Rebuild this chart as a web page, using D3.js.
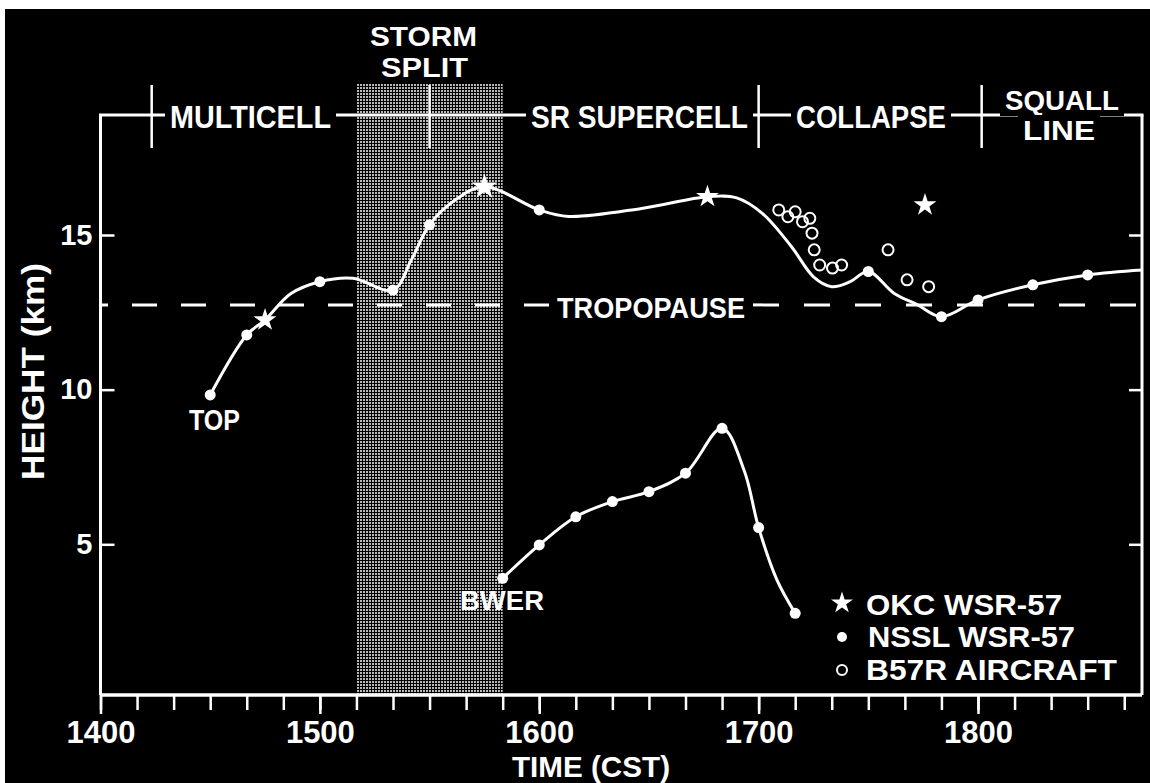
<!DOCTYPE html>
<html>
<head>
<meta charset="utf-8">
<script src="https://d3js.org/d3.v7.min.js"></script>
<style>
body { margin: 0; background: #fff; }
svg text { font-family: "Liberation Sans", Arial, sans-serif; font-weight: bold; fill: #fff; }
</style>
</head>
<body>
<svg width="1150" height="783"></svg>
<script>
// times are CST clock readings (HHMM), heights in km
var hourTicks  = [1400, 1500, 1600, 1700, 1800];
var hourLabels = ["1400", "1500", "1600", "1700", "1800"];
var heightTicks = [5, 10, 15];

// NSSL WSR-57 echo top
var topTimes   = [1430, 1440, 1500, 1520, 1530, 1600, 1730, 1750, 1800, 1815, 1830];
var topHeights = [9.83, 11.77, 13.49, 13.22, 15.33, 15.81, 13.82, 12.36, 12.9, 13.39, 13.71];

// NSSL WSR-57 BWER top
var bwerTimes   = [1550, 1600, 1610, 1620, 1630, 1640, 1650, 1700, 1710];
var bwerHeights = [3.9, 4.98, 5.89, 6.38, 6.70, 7.30, 8.75, 5.54, 2.77];

// OKC WSR-57 tops
var okcTimes   = [1445, 1545, 1646, 1745.5];
var okcHeights = [12.25, 16.56, 16.24, 15.97];

// B57R aircraft observations
var b57Times   = [1705.5, 1708, 1710, 1712, 1714, 1714.6, 1715.2, 1716.7, 1720.2, 1722.7, 1735.4, 1740.6, 1746.5];
var b57Heights = [15.81, 15.59, 15.75, 15.43, 15.54, 15.06, 14.52, 14.03, 13.93, 14.03, 14.52, 13.55, 13.33];

// hand-drawn smooth curves
var topLineTimes   = [1430, 1440, 1445, 1452, 1500, 1509, 1520, 1525, 1530, 1537, 1545, 1600, 1608, 1628, 1646, 1654, 1701, 1709, 1715, 1720, 1725, 1730, 1737, 1743.5, 1750, 1800, 1815, 1830, 1845];
var topLineHeights = [9.83, 11.77, 12.25, 13.1, 13.49, 13.6, 13.22, 14.19, 15.33, 16.13, 16.56, 15.81, 15.6, 15.86, 16.24, 16.2, 15.7, 14.62, 13.65, 13.33, 13.49, 13.82, 13.12, 12.74, 12.36, 12.9, 13.39, 13.71, 13.87];
var bwerLineTimes   = [1550, 1600, 1610, 1620, 1630, 1640, 1650, 1656, 1700, 1705, 1710];
var bwerLineHeights = [3.9, 4.98, 5.89, 6.38, 6.70, 7.30, 8.75, 7.4, 5.54, 3.85, 2.77];

var tropopause = 12.74;
var splitStart = 1510, splitEnd = 1550;
var stageBreaks = [1414, 1530, 1700, 1801];

function toMin(hhmm) { return Math.floor(hhmm / 100) * 60 + (hhmm % 100) - 840; }
function zip(ts, hs) { return ts.map(function(t, i) { return {t: t, h: hs[i]}; }); }

var W = 1150, H = 783;
var svg = d3.select("svg");

var x = d3.scaleLinear().domain([0, 240]).range([100.5, 978]);
var y = d3.scaleLinear().domain([5, 15]).range([544.3, 235]);

var pLeft = x(toMin(1400)), pRight = 1142, pTop = 115, pBottom = 695;

// page: scanned look, white margin top/left
svg.append("rect").attr("width", W).attr("height", H).attr("fill", "#fff");
svg.append("rect").attr("x", 5).attr("y", 9).attr("width", W - 5).attr("height", H - 9).attr("fill", "#000");

// halftone for storm split
var pat = svg.append("defs").append("pattern")
    .attr("id", "dots").attr("width", 3).attr("height", 3)
    .attr("patternUnits", "userSpaceOnUse");
pat.append("rect").attr("width", 3).attr("height", 3).attr("fill", "#000");
pat.append("rect").attr("width", 2).attr("height", 2).attr("fill", "#b8b8b8");

svg.append("rect")
    .attr("x", x(toMin(splitStart)))
    .attr("y", 83)
    .attr("width", x(toMin(splitEnd)) - x(toMin(splitStart)))
    .attr("height", pBottom - 83)
    .attr("fill", "url(#dots)");

// frame
var frame = svg.append("g").attr("stroke", "#fff").attr("fill", "none");
frame.append("line").attr("x1", pLeft).attr("y1", pTop).attr("x2", pLeft).attr("y2", pBottom).attr("stroke-width", 3);
frame.append("line").attr("x1", pRight).attr("y1", pTop).attr("x2", pRight).attr("y2", pBottom).attr("stroke-width", 3);
frame.append("line").attr("x1", pLeft).attr("y1", pBottom).attr("x2", pRight).attr("y2", pBottom).attr("stroke-width", 3.5);
frame.append("line").attr("x1", pLeft - 1.5).attr("y1", pTop).attr("x2", pRight + 1.5).attr("y2", pTop).attr("stroke-width", 3);

function label(str, x0, yb, size, len, knock) {
    var t = svg.append("text")
        .attr("x", x0).attr("y", yb)
        .attr("font-size", size)
        .attr("textLength", len)
        .attr("lengthAdjust", "spacingAndGlyphs")
        .text(str);
    if (knock) {
        var b = t.node().getBBox();
        svg.insert("rect", function() { return t.node(); })
            .attr("x", b.x - 5).attr("y", b.y)
            .attr("width", b.width + 10).attr("height", b.height)
            .attr("fill", "#000");
    }
    return t;
}

// storm split title
label("STORM", 370, 46, 27, 107, false);
label("SPLIT", 381, 77, 27, 87, false);

// stage labels on the top line
label("MULTICELL", 170, 128, 31, 161, true);
label("SR SUPERCELL", 531, 128, 31, 217, true);
label("COLLAPSE", 796, 128, 31, 150, true);
label("SQUALL", 1005, 110, 28, 114, true);
label("LINE", 1023, 140, 28, 72, true);

// stage dividers
svg.append("g").selectAll("line")
    .data(stageBreaks)
    .enter().append("line")
    .attr("x1", function(d) { return x(toMin(d)); })
    .attr("x2", function(d) { return x(toMin(d)); })
    .attr("y1", 85).attr("y2", 148)
    .attr("stroke", "#fff").attr("stroke-width", 2.5);

// axes
var yAxis = svg.append("g").attr("transform", "translate(" + pLeft + ",0)")
    .call(d3.axisLeft(y).tickValues(heightTicks).tickSize(-14).tickPadding(8));
var yAxisR = svg.append("g").attr("transform", "translate(" + pRight + ",0)")
    .call(d3.axisRight(y).tickValues(heightTicks).tickSize(-13).tickFormat(""));
var xMinor = svg.append("g").attr("transform", "translate(0," + pBottom + ")")
    .call(d3.axisBottom(x).tickValues(d3.range(0, 281, 10)).tickSize(15).tickFormat(""));
var xMajor = svg.append("g").attr("transform", "translate(0," + pBottom + ")")
    .call(d3.axisBottom(x).tickValues(hourTicks.map(toMin)).tickSize(19).tickPadding(7)
        .tickFormat(function(d, i) { return hourLabels[i]; }));

[yAxis, yAxisR, xMinor, xMajor].forEach(function(g) {
    g.attr("font-family", null).attr("font-size", null);
    g.select(".domain").remove();
    g.selectAll(".tick line").attr("stroke", "#fff").attr("stroke-width", 2.5);
    g.selectAll(".tick text").attr("fill", "#fff");
});
yAxis.selectAll(".tick text").attr("font-size", 29);
xMajor.selectAll(".tick text").attr("font-size", 31);

// axis titles
svg.append("text")
    .attr("transform", "translate(44,371.5) rotate(-90)")
    .attr("text-anchor", "middle")
    .attr("font-size", 32)
    .attr("textLength", 217).attr("lengthAdjust", "spacingAndGlyphs")
    .text("HEIGHT (km)");
label("TIME (CST)", 512, 777, 30, 158, false);

// tropopause
var yt = y(tropopause);
svg.append("line").attr("x1", 549).attr("x2", pLeft).attr("y1", yt).attr("y2", yt)
    .attr("stroke", "#fff").attr("stroke-width", 3).attr("stroke-dasharray", "25,24");
svg.append("line").attr("x1", 753).attr("x2", pRight).attr("y1", yt).attr("y2", yt)
    .attr("stroke", "#fff").attr("stroke-width", 3).attr("stroke-dasharray", "26,25");
label("TROPOPAUSE", 557, 318, 30, 188, false);

// curves
var line = d3.line()
    .x(function(d) { return x(toMin(d.t)); })
    .y(function(d) { return y(d.h); })
    .curve(d3.curveCatmullRom.alpha(0.5));

svg.append("path").datum(zip(topLineTimes, topLineHeights))
    .attr("d", line).attr("fill", "none").attr("stroke", "#fff").attr("stroke-width", 3);
svg.append("path").datum(zip(bwerLineTimes, bwerLineHeights))
    .attr("d", line).attr("fill", "none").attr("stroke", "#fff").attr("stroke-width", 3);

// NSSL dots
svg.append("g").selectAll("circle")
    .data(zip(topTimes, topHeights).concat(zip(bwerTimes, bwerHeights)))
    .enter().append("circle")
    .attr("cx", function(d) { return x(toMin(d.t)); })
    .attr("cy", function(d) { return y(d.h); })
    .attr("r", 5.5).attr("fill", "#fff");

// B57R open circles
svg.append("g").selectAll("circle")
    .data(zip(b57Times, b57Heights))
    .enter().append("circle")
    .attr("cx", function(d) { return x(toMin(d.t)); })
    .attr("cy", function(d) { return y(d.h); })
    .attr("r", 5.5).attr("fill", "none").attr("stroke", "#fff").attr("stroke-width", 2);

// OKC stars
svg.append("g").selectAll("path")
    .data(zip(okcTimes, okcHeights))
    .enter().append("path")
    .attr("transform", function(d) { return "translate(" + x(toMin(d.t)) + "," + y(d.h) + ")"; })
    .attr("d", function(d, i) { return d3.symbol(d3.symbolStar, i == 1 ? 205 : 162)(); })
    .attr("fill", "#fff");

// point labels
label("TOP", 189, 430, 29, 51, false);
label("BWER", 460, 610, 28, 84, false);

// legend
svg.append("path").attr("transform", "translate(842,603)")
    .attr("d", d3.symbol(d3.symbolStar, 150)()).attr("fill", "#fff");
svg.append("circle").attr("cx", 842).attr("cy", 637).attr("r", 5).attr("fill", "#fff");
svg.append("circle").attr("cx", 842).attr("cy", 670).attr("r", 5)
    .attr("fill", "none").attr("stroke", "#fff").attr("stroke-width", 2);
label("OKC  WSR-57", 866, 615, 30, 196, false);
label("NSSL WSR-57", 868, 647, 30, 207, false);
label("B57R AIRCRAFT", 866, 680, 30, 251, false);
</script>
</body>
</html>
